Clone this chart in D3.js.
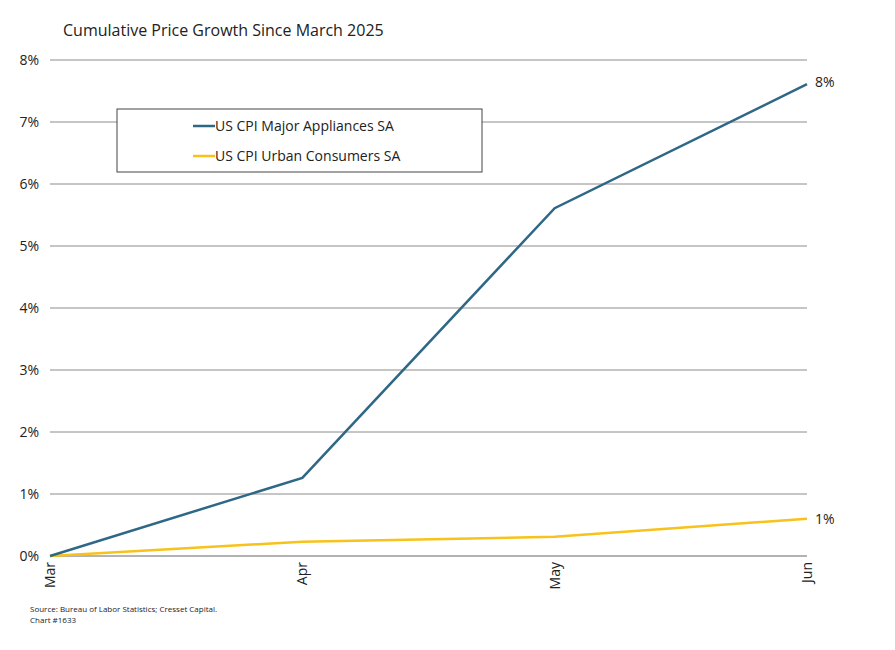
<!DOCTYPE html><html><head><meta charset="utf-8"><script src="https://cdn.jsdelivr.net/npm/d3@7"></script>
<style>body{margin:0;background:#fff;font-family:"Open Sans",Arial,sans-serif}</style></head><body><svg id="c" width="895" height="650"></svg>
<script>
const categories=["Mar","Apr","May","Jun"];
const appliances=[0,1.26,5.61,7.61];
const urban=[0,0.23,0.31,0.6];
const yTicks=[0,1,2,3,4,5,6,7,8];
const endLabels=["8%","1%"];
const svg=d3.select("#c");
const x=d3.scalePoint().domain(categories).range([50,807]);
const y=d3.scaleLinear().domain([0,8]).range([556,60]);
svg.append("text").attr("x",63).attr("y",36).attr("font-size",16).attr("fill","#222").text("Cumulative Price Growth Since March 2025");
const g=svg.append("g");
yTicks.forEach(t=>{
 g.append("line").attr("x1",50).attr("x2",807).attr("y1",y(t)).attr("y2",y(t)).attr("stroke",t===0?"#666":"#8c8c8c").attr("stroke-width",1);
 g.append("text").attr("x",39).attr("y",y(t)+5).attr("text-anchor","end").attr("font-size",14).attr("fill","#222").text(t+"%");
});
categories.forEach(c=>{
 g.append("text").attr("transform",`translate(${x(c)+5},562) rotate(-90)`).attr("text-anchor","end").attr("font-size",14).attr("fill","#222").text(c);
});
const line=d3.line().x((d,i)=>x(categories[i])).y(d=>y(d));
svg.append("path").datum(urban).attr("d",line).attr("fill","none").attr("stroke","#f7c21a").attr("stroke-width",2.5);
svg.append("path").datum(appliances).attr("d",line).attr("fill","none").attr("stroke","#2e6886").attr("stroke-width",2.5);
svg.append("text").attr("x",815).attr("y",y(appliances[3])+3).attr("font-size",14).attr("fill","#222").text(endLabels[0]);
svg.append("text").attr("x",815).attr("y",y(urban[3])+5).attr("font-size",14).attr("fill","#222").text(endLabels[1]);
const lg=svg.append("g");
lg.append("rect").attr("x",117).attr("y",109).attr("width",365).attr("height",63).attr("fill","#fff").attr("stroke","#444");
[["US CPI Major Appliances SA","#2e6886",126],["US CPI Urban Consumers SA","#f7c21a",156]].forEach(([t,c,yy])=>{
 lg.append("line").attr("x1",193).attr("x2",215).attr("y1",yy).attr("y2",yy).attr("stroke",c).attr("stroke-width",2.5);
 lg.append("text").attr("x",215).attr("y",yy+5).attr("font-size",14).attr("fill","#222").text(t);
});
svg.append("text").attr("x",30).attr("y",612).attr("font-size",8).attr("fill","#222").text("Source: Bureau of Labor Statistics; Cresset Capital.");
svg.append("text").attr("x",30).attr("y",623).attr("font-size",8).attr("fill","#222").text("Chart #1633");
</script></body></html>
